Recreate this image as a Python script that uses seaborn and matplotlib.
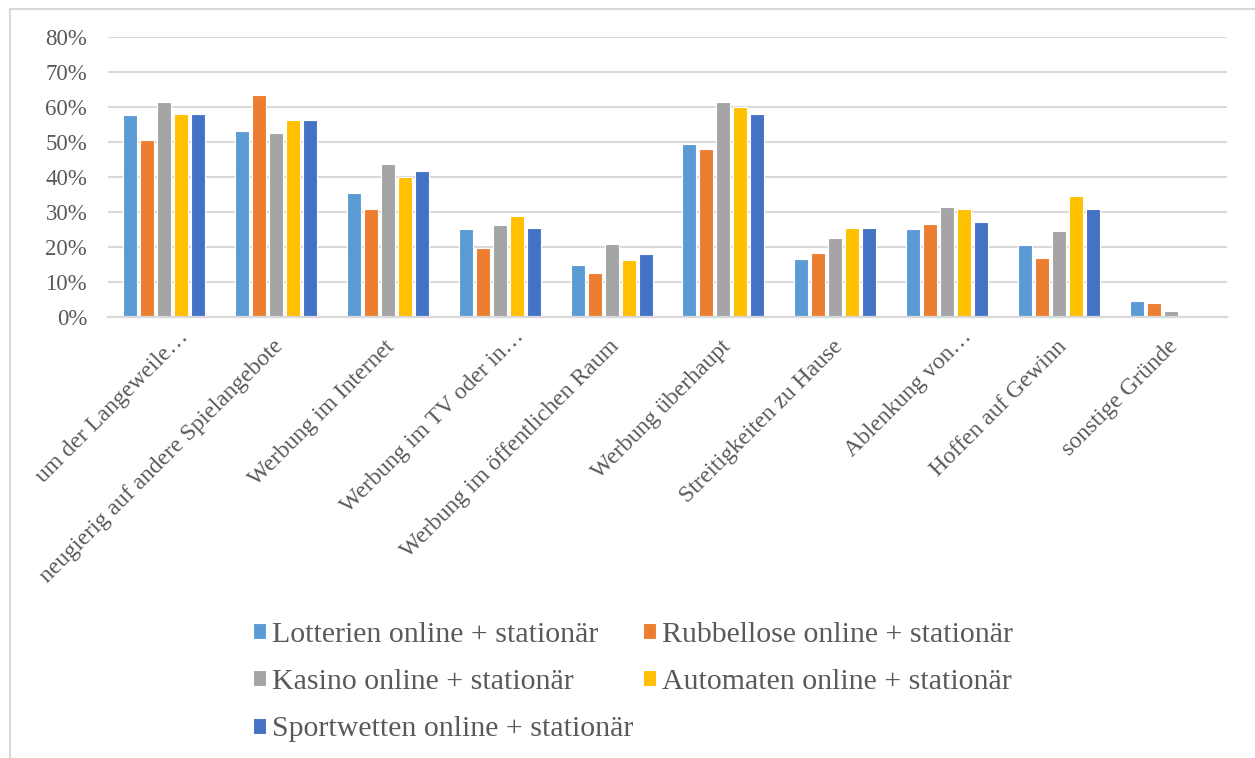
import matplotlib
matplotlib.use("Agg")
import matplotlib.pyplot as plt
from matplotlib.lines import Line2D
from matplotlib.ticker import FuncFormatter
import matplotlib.transforms as mtransforms
import numpy as np
import pandas as pd
import seaborn as sns

# Gründe für das Spielen (Anteil in %)
categories = [
    "um der Langeweile…",
    "neugierig auf andere Spielangebote",
    "Werbung im Internet",
    "Werbung im TV oder in…",
    "Werbung im öffentlichen Raum",
    "Werbung überhaupt",
    "Streitigkeiten zu Hause",
    "Ablenkung von…",
    "Hoffen auf Gewinn",
    "sonstige Gründe",
]
series = [
    "Lotterien online + stationär",
    "Rubbellose online + stationär",
    "Kasino online + stationär",
    "Automaten online + stationär",
    "Sportwetten online + stationär",
]
lotterien = [57.8, 53.2, 35.4, 25.2, 14.9, 49.5, 16.7, 25.2, 20.5, 4.6]
rubbellose = [50.6, 63.3, 30.9, 19.7, 12.6, 47.9, 18.2, 26.7, 16.9, 4.1]
kasino = [61.4, 52.5, 43.8, 26.2, 21.0, 61.4, 22.7, 31.5, 24.5, 1.6]
automaten = [58.1, 56.3, 39.9, 29.0, 16.3, 60.0, 25.5, 30.8, 34.5, 0.0]
sportwetten = [58.1, 56.3, 41.8, 25.4, 18.0, 58.1, 25.5, 27.2, 30.8, 0.0]
y_ticks = [0, 10, 20, 30, 40, 50, 60, 70, 80]

colors = ["#5B9BD5", "#ED7D31", "#A5A5A5", "#FFC000", "#4472C4"]
text_color = "#595959"
grid_color = "#D9D9D9"

df = pd.DataFrame({
    "Grund": np.tile(categories, len(series)),
    "Spielform": np.repeat(series, len(categories)),
    "Anteil": lotterien + rubbellose + kasino + automaten + sportwetten,
})

sns.set_theme(style="white")
plt.rcParams["font.family"] = ["Liberation Serif", "DejaVu Serif"]

W, H = 1255, 758
fig = plt.figure(figsize=(W / 100, H / 100), dpi=100)
ax = fig.add_axes([108 / W, 1 - 317 / H, (1227 - 108) / W, (317 - 37) / H])

sns.barplot(
    data=df, x="Grund", y="Anteil", hue="Spielform",
    order=categories, hue_order=series, palette=colors, saturation=1,
    width=0.76, gap=0.18, edgecolor="white", linewidth=0.8,
    errorbar=None, ax=ax, legend=True, zorder=3,
)

ax.set_xlim(-0.5, len(categories) - 0.5)
ax.set_ylim(0, 80)
ax.set_yticks(y_ticks)
ax.yaxis.set_major_formatter(FuncFormatter(lambda v, _: f"{v:.0f}%"))
ax.set_xlabel("")
ax.set_ylabel("")

ax.grid(axis="y", color=grid_color, linewidth=1.5, zorder=0)
ax.grid(axis="x", visible=False)
for side in ["left", "right", "top"]:
    ax.spines[side].set_visible(False)
ax.spines["bottom"].set_color(grid_color)
ax.spines["bottom"].set_linewidth(1.6)
ax.spines["bottom"].set_zorder(4)

ax.tick_params(axis="y", length=0, pad=15, labelsize=16.5, labelcolor=text_color)
ax.tick_params(axis="x", length=0, pad=4, labelsize=17, labelcolor=text_color)
for lbl in ax.get_xticklabels():
    # gekürzte Beschriftungen sitzen etwas weiter rechts oben
    dx, dy = (21, -11) if lbl.get_text().endswith("…") else (4, -21)
    shift = mtransforms.ScaledTranslation(dx / 100, dy / 100, fig.dpi_scale_trans)
    lbl.set_rotation(45)
    lbl.set_ha("right")
    lbl.set_va("center")
    lbl.set_rotation_mode("anchor")
    lbl.set_transform(lbl.get_transform() + shift)

# Legende zeilenweise: matplotlib füllt Spalten, daher umsortieren
handles, labels = ax.get_legend_handles_labels()
ax.get_legend().remove()
order = [0, 2, 4, 1, 3]
leg = fig.legend(
    [handles[i] for i in order], [labels[i] for i in order],
    ncol=2, loc="center", bbox_to_anchor=(633 / W, 1 - 682 / H),
    frameon=False, fontsize=21.5, handlelength=0.45, handleheight=0.45,
    handletextpad=0.2, columnspacing=0.3, labelspacing=0.72,
)
for t in leg.get_texts():
    t.set_color(text_color)

# Rahmen des Diagrammbereichs
x0, y0 = 9.5 / W, 1 - 8.5 / H
fig.add_artist(Line2D([x0, 1.0], [y0, y0], color=grid_color, linewidth=1.5, transform=fig.transFigure))
fig.add_artist(Line2D([x0, x0], [y0, 0.0], color=grid_color, linewidth=1.5, transform=fig.transFigure))

fig.savefig("out.png", dpi=100, facecolor="white")
